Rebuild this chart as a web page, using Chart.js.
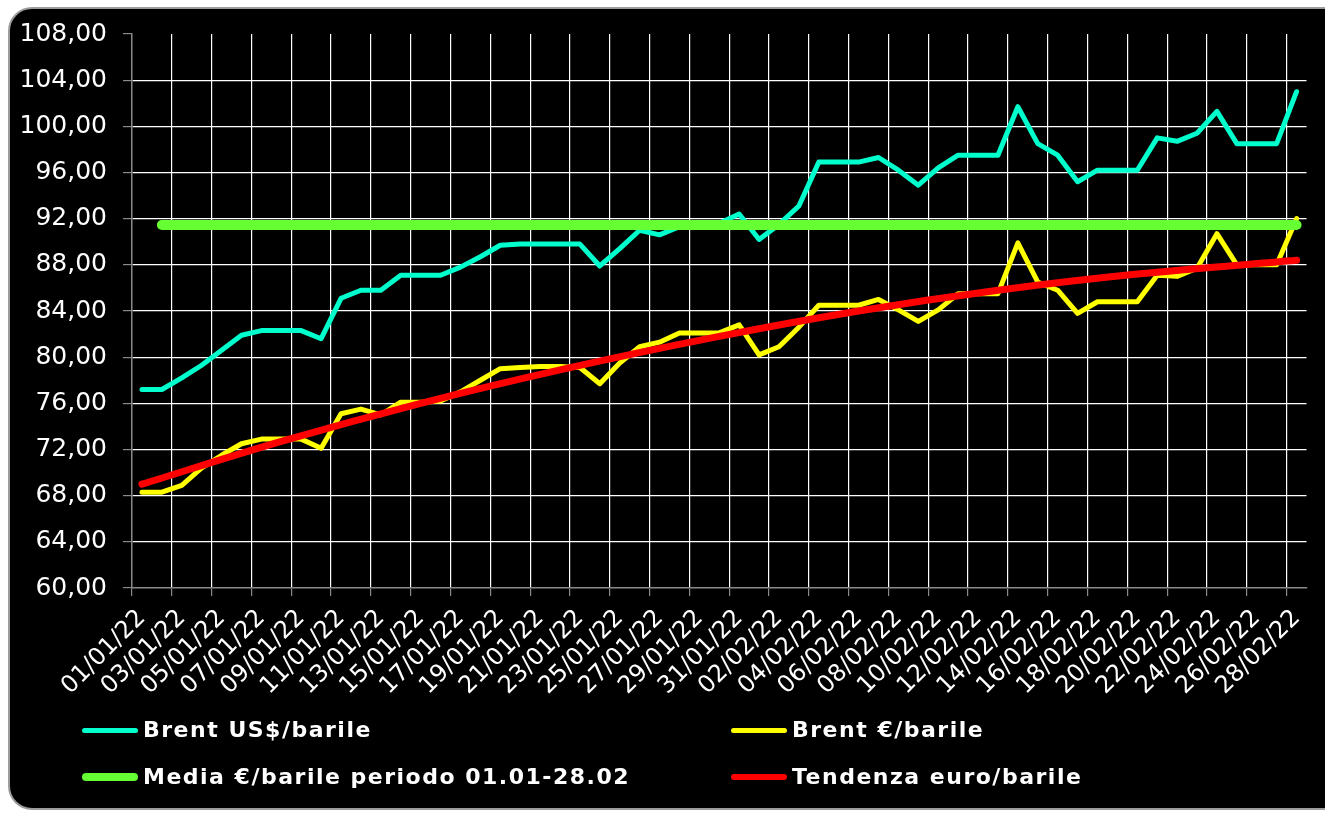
<!DOCTYPE html>
<html>
<head>
<meta charset="utf-8">
<script src="https://cdn.jsdelivr.net/npm/chart.js@4.4.1/dist/chart.umd.min.js"></script>
<style>
  html, body { margin: 0; padding: 0; background: #ffffff; width: 1325px; height: 813px; overflow: hidden; }
  #frame { position: absolute; left: 8px; top: 7px; width: 1340px; height: 803px; box-sizing: border-box;
           background: #000; border: 2px solid #9c9c9c; border-radius: 24px; }
  #wrap { position: absolute; left: 0; top: 0; width: 1325px; height: 813px; }
  .leg { position: absolute; color: #fff; font-family: "DejaVu Sans", Verdana, sans-serif;
         font-weight: bold; font-size: 22px; letter-spacing: 1.5px; line-height: 1; white-space: nowrap; }
  .sw { position: absolute; border-radius: 4px; }
</style>
</head>
<body>
<div id="frame"></div>
<div id="wrap"><canvas id="c"></canvas></div>
<div id="legend"></div>
<script>
const dates = [
  "01/01/22","02/01/22","03/01/22","04/01/22","05/01/22","06/01/22","07/01/22","08/01/22","09/01/22","10/01/22",
  "11/01/22","12/01/22","13/01/22","14/01/22","15/01/22","16/01/22","17/01/22","18/01/22","19/01/22","20/01/22",
  "21/01/22","22/01/22","23/01/22","24/01/22","25/01/22","26/01/22","27/01/22","28/01/22","29/01/22","30/01/22",
  "31/01/22","01/02/22","02/02/22","03/02/22","04/02/22","05/02/22","06/02/22","07/02/22","08/02/22","09/02/22",
  "10/02/22","11/02/22","12/02/22","13/02/22","14/02/22","15/02/22","16/02/22","17/02/22","18/02/22","19/02/22",
  "20/02/22","21/02/22","22/02/22","23/02/22","24/02/22","25/02/22","26/02/22","27/02/22","28/02/22"
];

const brentUsd = [
  77.2, 77.2, 78.2, 79.3, 80.6, 81.9, 82.3, 82.3, 82.3, 81.6,
  85.1, 85.8, 85.8, 87.1, 87.1, 87.1, 87.8, 88.7, 89.7, 89.8,
  89.8, 89.8, 89.8, 87.9, 89.4, 91.0, 90.6, 91.3, 91.5, 91.6,
  92.4, 90.2, 91.5, 93.1, 96.9, 96.9, 96.9, 97.3, 96.2, 94.9,
  96.4, 97.5, 97.5, 97.5, 101.7, 98.5, 97.5, 95.2, 96.2, 96.2,
  96.2, 99.0, 98.7, 99.4, 101.3, 98.5, 98.5, 98.5, 103.0
];

const brentEur = [
  68.3, 68.3, 68.9, 70.4, 71.5, 72.5, 72.9, 72.9, 72.9, 72.1,
  75.1, 75.5, 75.0, 76.1, 76.1, 76.2, 77.0, 78.0, 79.0, 79.1,
  79.2, 79.2, 79.1, 77.7, 79.5, 80.9, 81.3, 82.1, 82.1, 82.1,
  82.8, 80.2, 80.9, 82.6, 84.5, 84.5, 84.5, 85.0, 84.1, 83.1,
  84.1, 85.5, 85.5, 85.5, 89.9, 86.5, 85.8, 83.8, 84.8, 84.8,
  84.8, 87.1, 87.0, 87.7, 90.7, 88.0, 88.0, 88.0, 92.0
];

// average line: drawn from 02/01 to 28/02
const mediaEur = [
  null, 91.45, null, null, null, null, null, null, null, null,
  null, null, null, null, null, null, null, null, null, null,
  null, null, null, null, null, null, null, null, null, null,
  null, null, null, null, null, null, null, null, null, null,
  null, null, null, null, null, null, null, null, null, null,
  null, null, null, null, null, null, null, null, 91.45
];

// trend curve, values at a few dates
const tendenzaEur = [
  69.0, null, null, null, null, null, null, 72.7, null, null,
  null, null, null, null, 76.0, null, null, null, null, null,
  null, 78.9, null, null, null, null, null, null, null, 81.8,
  null, null, null, null, null, null, 84.0, null, null, null,
  null, null, null, 85.8, null, null, null, null, null, null,
  87.2, null, null, null, null, null, null, null, 88.4
];

const seriesNames = ["Brent US$/barile", "Brent \u20AC/barile", "Media \u20AC/barile periodo 01.01-28.02", "Tendenza euro/barile"];
const seriesColors = ["#00FFCC", "#FFFF00", "#66FF33", "#FF0000"];

const yMin = 60, yMax = 108, yStep = 4;

Chart.defaults.font.family = "'DejaVu Sans', Verdana, sans-serif";

const line = (label, data, color, width, order, smooth) => ({
  label, data, borderColor: color, backgroundColor: color, borderWidth: width,
  pointRadius: 0, tension: 0, spanGaps: true, order,
  cubicInterpolationMode: smooth ? 'monotone' : 'default',
  borderCapStyle: 'round', borderJoinStyle: 'round', fill: false
});

new Chart(document.getElementById('c'), {
  type: 'line',
  data: {
    labels: dates,
    datasets: [
      line(seriesNames[0], brentUsd, seriesColors[0], 5, 3, false),
      line(seriesNames[1], brentEur, seriesColors[1], 5, 2, false),
      line(seriesNames[2], mediaEur, seriesColors[2], 10, 1, false),
      line(seriesNames[3], tendenzaEur, seriesColors[3], 7, 0, true)
    ]
  },
  options: {
    responsive: true,
    maintainAspectRatio: false,
    animation: false,
    events: [],
    layout: { padding: { top: 34, left: 0, right: 10, bottom: 0 } },
    plugins: { legend: { display: false }, tooltip: { enabled: false } },
    scales: {
      x: {
        offset: true,
        grid: {
          offset: true,
          color: ctx => (ctx.index !== undefined && ctx.index % 2 === 0 && ctx.index > 0) ? '#ffffff' : 'rgba(0,0,0,0)',
          tickColor: ctx => (ctx.index !== undefined && ctx.index % 2 === 0) ? '#8a8a8a' : 'rgba(0,0,0,0)',
          lineWidth: 1.2,
          tickLength: 8,
          drawTicks: true
        },
        border: { display: true, color: '#8a8a8a', width: 1.5 },
        ticks: {
          autoSkip: false,
          minRotation: 45,
          maxRotation: 45,
          padding: 8,
          color: '#ffffff',
          font: { size: 24 },
          callback: function (v, i) { return i % 2 === 0 ? dates[i] : ''; }
        },
        afterFit: s => { s.height = 225; }
      },
      y: {
        min: yMin,
        max: yMax,
        grid: {
          color: ctx => (ctx.tick && (ctx.tick.value === yMax || ctx.tick.value === yMin)) ? 'rgba(0,0,0,0)' : '#ffffff',
          tickColor: '#8a8a8a',
          lineWidth: 1.2,
          tickLength: 9
        },
        border: { display: true, color: '#8a8a8a', width: 1.5 },
        ticks: {
          stepSize: yStep,
          padding: 16,
          color: '#ffffff',
          font: { size: 25 },
          callback: v => v.toFixed(2).replace('.', ',')
        },
        afterFit: s => { s.width = 132; }
      }
    }
  }
});

// HTML legend, 2 columns x 2 rows
const legendPos = [
  { x: 82, y: 730 }, { x: 731, y: 730 },
  { x: 82, y: 777 }, { x: 731, y: 777 }
];
const legendOrder = [0, 1, 2, 3];
const sampleW = [5, 5, 8, 6];
const legend = document.getElementById('legend');
legendOrder.forEach((si, k) => {
  const p = legendPos[k];
  const sw = document.createElement('div');
  sw.className = 'sw';
  sw.style.left = p.x + 'px';
  sw.style.top = (p.y - sampleW[si] / 2) + 'px';
  sw.style.width = '56px';
  sw.style.height = sampleW[si] + 'px';
  sw.style.background = seriesColors[si];
  legend.appendChild(sw);
  const t = document.createElement('div');
  t.className = 'leg';
  t.textContent = seriesNames[si];
  t.style.left = (p.x + 61) + 'px';
  t.style.top = (p.y - 11) + 'px';
  legend.appendChild(t);
});
</script>
</body>
</html>
